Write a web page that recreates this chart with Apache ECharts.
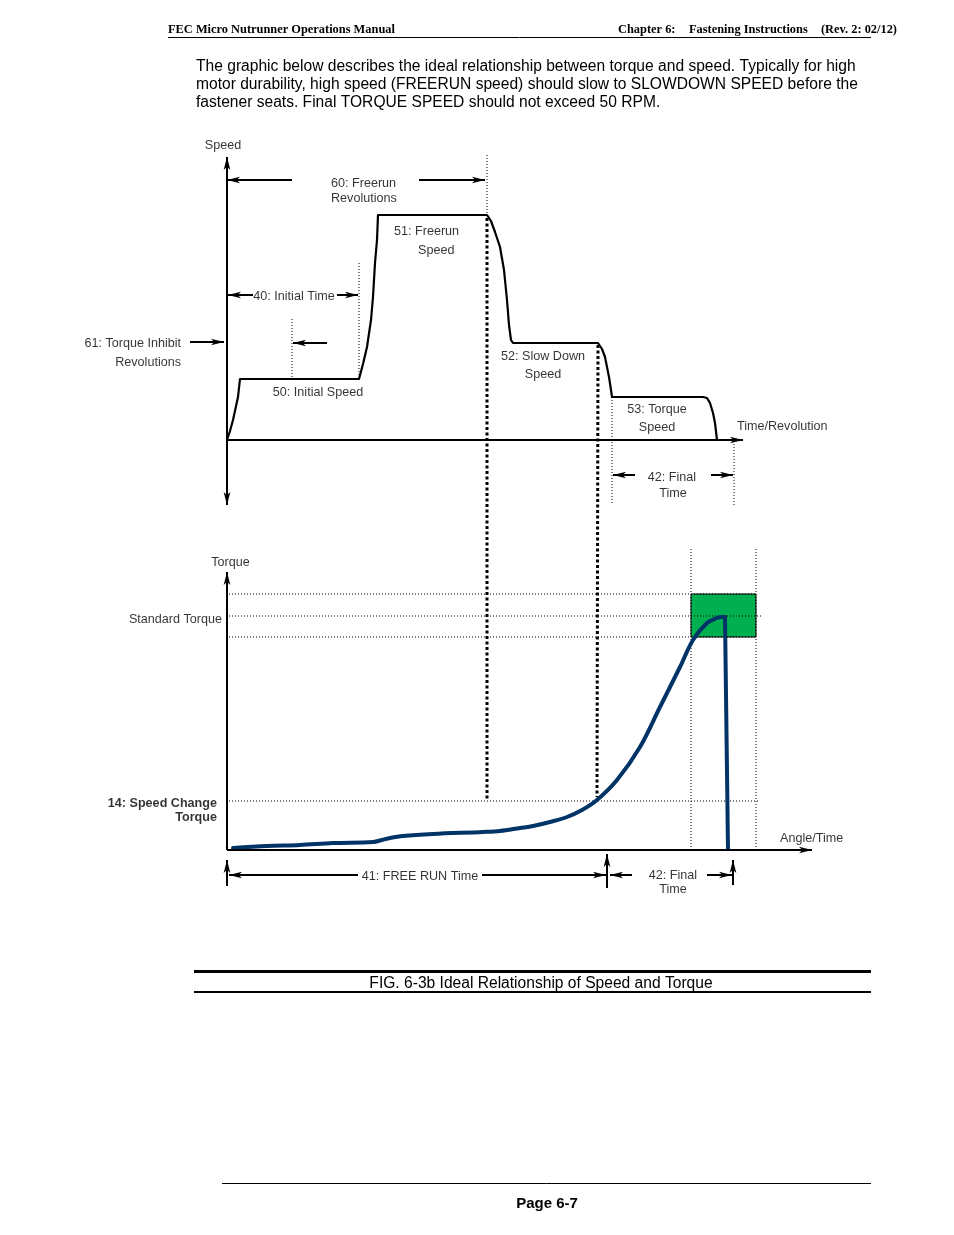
<!DOCTYPE html>
<html>
<head>
<meta charset="utf-8">
<script src="https://cdn.jsdelivr.net/npm/echarts@6/dist/echarts.min.js"></script>
<style>html,body{margin:0;padding:0;background:#fff}#c{width:954px;height:1235px}</style>
</head>
<body>
<div id="c"></div>
<script>
// ---------- DATA ----------
// Speed profile: x = time/revolution units, y = speed units
const speedTime  = [0, 3, 6, 11, 13, 132, 136, 140, 144, 146, 148, 150, 151, 260, 264, 268, 273, 277, 280, 282, 284, 286, 371, 375, 378, 380, 382, 384, 385, 476, 480, 483, 486, 488, 490];
const speedValue = [0, 9, 20, 43, 61, 61, 76, 93, 120, 143, 177, 200, 225, 225, 219, 208, 193, 170, 140, 115, 100, 97, 97, 91, 83, 73, 63, 50, 43, 43, 42, 37, 27, 17, 0];

// Torque profile: x = angle/time units, y = torque units
const torqueAngle = [6, 40, 73, 106, 146, 155, 163, 176, 206, 256, 273, 293, 306, 323, 340, 355, 370, 390, 413, 433, 453, 466, 480, 490, 495, 498];
const torqueValue = [2, 4, 5, 7, 8, 10, 12, 14, 16, 18, 19, 22, 24, 28, 33, 40, 50, 70, 103, 143, 183, 210, 227, 232, 233, 233];
const torqueDropAngle = [498, 501];
const torqueDropValue = [233, 1];

// Torque levels
const torqueLevelNames  = ['Upper limit', 'Standard Torque', 'Lower limit', '14: Speed Change Torque'];
const torqueLevelValues = [256, 234, 213, 49];
// Final-time window (angle units)
const finalWindow = [464, 529];

// Speed levels (for reference of the profile)
const speedLevelNames  = ['50: Initial Speed', '51: Freerun Speed', '52: Slow Down Speed', '53: Torque Speed'];
const speedLevelValues = [61, 225, 97, 43];

// ---------- ANNOTATIONS ----------
const speedArrows = [ // [x1,y1,x2,y2], arrow tip at the second point
  [65, 260, 0, 260], [192, 260, 258, 260],
  [26, 145, 1, 145], [110, 145, 131, 145],
  [100, 97, 66, 97], [-37, 98, -3, 98],
  [408, -35, 386, -35], [484, -35, 506, -35]
];
const speedThinDots = [
  [[260, 285], [260, 225]], [[132, 177], [132, 61]], [[65, 121], [65, 61]],
  [[385, 43], [385, -65]], [[507, -1], [507, -65]]
];
const speedThickDots = [
  [[260, 222], [260, -360]], [[371, 95], [370, -357]]
];
const speedLabels = [
  ['Speed', -4, 296, 'center'],
  ['60: Freerun', 104, 258, 'left'], ['Revolutions', 104, 243, 'left'],
  ['51: Freerun', 167, 210, 'left'], ['Speed', 191, 191, 'left'],
  ['40: Initial Time', 67, 145, 'center'],
  ['61: Torque Inhibit', -46, 98, 'right'], ['Revolutions', -46, 79, 'right'],
  ['50: Initial Speed', 91, 49, 'center'],
  ['52: Slow Down', 316, 85, 'center'], ['Speed', 316, 67, 'center'],
  ['53: Torque', 430, 32, 'center'], ['Speed', 430, 14, 'center'],
  ['Time/Revolution', 510, 15, 'left'],
  ['42: Final', 445, -36, 'center'], ['Time', 446, -52, 'center']
];

const torqueArrows = [
  [0, -36, 0, -10],
  [131, -25, 2, -25], [255, -25, 379, -25],
  [380, -38, 380, -4],
  [405, -25, 383, -25], [480, -25, 505, -25],
  [506, -35, 506, -10]
];
const torqueLevelEnds = [530, 535, 530, 533];
const torqueVDots = [
  [[464, 301], [464, 0]], [[529, 301], [529, 0]]
];
const torqueLabels = [
  ['Torque', 3.5, 289, 'center', 'normal'],
  ['Standard Torque', -5, 232, 'right', 'normal'],
  ['14: Speed Change', -10, 48, 'right', 'bold'],
  ['Torque', -10, 34, 'right', 'bold'],
  ['Angle/Time', 553, 13, 'left', 'normal'],
  ['41: FREE RUN Time', 193, -25, 'center', 'normal'],
  ['42: Final', 446, -24, 'center', 'normal'],
  ['Time', 446, -38, 'center', 'normal']
];

// ---------- BUILD ----------
const zip = (a, b) => a.map((v, i) => [v, b[i]]);
const FONT = '"Liberation Sans", Arial, Helvetica, sans-serif';

function arrowData(list) {
  return list.map(a => [{ coord: [a[0], a[1]] }, { coord: [a[2], a[3]] }]);
}
function dotSeries(segs, gi, width, dash, z) {
  return segs.map(s => ({
    type: 'line', xAxisIndex: gi, yAxisIndex: gi, data: s, symbol: 'none', clip: false, silent: true, z: z,
    lineStyle: { color: '#000', width: width, type: dash, cap: 'butt' }
  }));
}
function labelSeries(list, gi) {
  return {
    type: 'scatter', xAxisIndex: gi, yAxisIndex: gi, symbolSize: 1, silent: true, z: 5,
    itemStyle: { color: 'rgba(0,0,0,0)' },
    label: { show: true, position: 'inside', offset: [0, 1.8], formatter: p => p.name, color: '#000', fontSize: 12.6, fontFamily: FONT },
    data: list.map(l => ({ name: l[0], value: [l[1], l[2]],
      label: { align: l[3], fontWeight: l[4] || 'normal', verticalAlign: 'middle' } }))
  };
}
const arrowMark = (list, axes) => ({
  silent: true, animation: false, symbol: ['none', 'arrow'], symbolSize: [5, 13],
  label: { show: false }, emphasis: { disabled: true },
  lineStyle: { color: '#000', width: 2, type: 'solid' },
  data: axes.concat(arrowData(list))
});

const series = [];
// speed profile + axes + arrows
series.push({
  type: 'line', xAxisIndex: 0, yAxisIndex: 0, data: zip(speedTime, speedValue), symbol: 'none', z: 4, silent: true,
  lineStyle: { color: '#000', width: 2.2, join: 'round' },
  markLine: arrowMark(speedArrows, [
    [{ coord: [0, -65], symbol: 'arrow' }, { coord: [0, 283], symbol: 'arrow' }],
    [{ coord: [0, 0] }, { coord: [516, 0] }]
  ])
});
series.push(...dotSeries(speedThinDots, 0, 1, [1, 2], 2));
series.push(...dotSeries(speedThickDots, 0, 3, [3, 2.5], 2));
series.push(labelSeries(speedLabels, 0));

// torque window box
series.push({
  type: 'line', xAxisIndex: 1, yAxisIndex: 1, data: [], z: 1, silent: true,
  markArea: { silent: true, itemStyle: { color: '#00B050', borderColor: '#000', borderWidth: 1 }, label: { show: false },
    data: [[{ coord: [finalWindow[0], torqueLevelValues[0]] }, { coord: [finalWindow[1], torqueLevelValues[2]] }]] }
});
// torque level dotted lines
series.push(...dotSeries(torqueLevelValues.map((v, i) => [[2, v], [torqueLevelEnds[i], v]]), 1, 1, [1, 2], 2));
series.push(...dotSeries(torqueVDots, 1, 1, [1, 2], 2));
// torque curve
series.push({
  type: 'line', xAxisIndex: 1, yAxisIndex: 1, data: zip(torqueAngle, torqueValue), symbol: 'none', smooth: 0.35, z: 4, silent: true,
  lineStyle: { color: '#003366', width: 4, cap: 'round', join: 'round' },
  markLine: arrowMark(torqueArrows, [
    [{ coord: [0, 0] }, { coord: [0, 278] }],
    [{ coord: [0, 0] }, { coord: [585, 0] }]
  ])
});
series.push({
  type: 'line', xAxisIndex: 1, yAxisIndex: 1, data: zip(torqueDropAngle, torqueDropValue), symbol: 'none', z: 4, silent: true,
  lineStyle: { color: '#003366', width: 4, cap: 'round', join: 'round' }
});
series.push(labelSeries(torqueLabels, 1));

function txt(x, y, text, font, align) {
  return { type: 'text', x: x, y: y, silent: true,
    style: { text: text, font: font, fill: '#000', textAlign: align || 'left', align: align || 'left', textVerticalAlign: 'middle', verticalAlign: 'middle' } };
}
function hline(x1, x2, y, w) {
  return { type: 'line', silent: true, shape: { x1: x1, y1: y, x2: x2, y2: y }, style: { stroke: '#000', lineWidth: w } };
}
const SERIF = 'bold 12.4px "Liberation Serif", "Times New Roman", serif';
const PARA = '15.6px ' + FONT;
const graphic = [
  txt(168, 30, 'FEC Micro Nutrunner Operations Manual', SERIF),
  txt(618, 30, 'Chapter 6:', SERIF),
  txt(689, 30, 'Fastening Instructions', SERIF),
  txt(897, 30, '(Rev. 2: 02/12)', SERIF, 'right'),
  hline(168, 871, 37.5, 1),
  txt(196, 67, 'The graphic below describes the ideal relationship between torque and speed. Typically for high', PARA),
  txt(196, 85, 'motor durability, high speed (FREERUN speed) should slow to SLOWDOWN SPEED before the', PARA),
  txt(196, 103, 'fastener seats. Final TORQUE SPEED should not exceed 50 RPM.', PARA),
  hline(194, 871, 971.5, 3),
  txt(541, 983.5, 'FIG. 6-3b Ideal Relationship of Speed and Torque', '15.6px ' + FONT, 'center'),
  hline(194, 871, 992, 2),
  hline(222, 871, 1183.5, 1),
  txt(547, 1203.5, 'Page 6-7', 'bold 15px ' + FONT, 'center')
];

const chart = echarts.init(document.getElementById('c'), null, { renderer: 'canvas', width: 954, height: 1235 });
chart.setOption({
  animation: false,
  backgroundColor: '#fff',
  grid: [
    { left: 77, top: 140, width: 800, height: 370 },
    { left: 77, top: 545, width: 800, height: 350 }
  ],
  xAxis: [
    { gridIndex: 0, type: 'value', min: -150, max: 650, show: false },
    { gridIndex: 1, type: 'value', min: -150, max: 650, show: false }
  ],
  yAxis: [
    { gridIndex: 0, type: 'value', min: -70, max: 300, show: false },
    { gridIndex: 1, type: 'value', min: -45, max: 305, show: false }
  ],
  tooltip: { show: false },
  series: series,
  graphic: graphic
});
</script>
</body>
</html>
